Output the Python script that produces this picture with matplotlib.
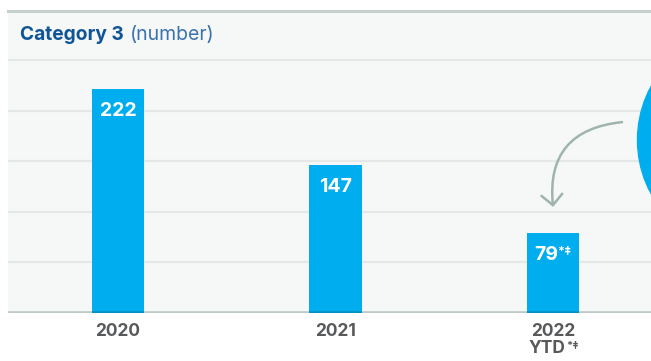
import matplotlib
matplotlib.use("Agg")
import matplotlib.pyplot as plt
from matplotlib.patches import Circle, FancyArrowPatch

# Data
years = ["2020", "2021", "2022"]
counts = [222, 147, 79]
count_marks = ["", "", "*‡"]
year_notes = ["", "", "YTD"]
note_marks = ["", "", "*‡"]
title_bold = "Category 3"
title_unit = "(number)"
grid_levels = [50, 100, 150, 200, 250]

BAR = "#00aeef"
TITLE_BLUE = "#0f5497"
UNIT_BLUE = "#3a72ad"
LABEL_GRAY = "#58595b"
PANEL = "#f6f8f8"
GRID = "#e4e8e7"
FONT = ["Inter", "DejaVu Sans"]

W, H = 651, 361
fig = plt.figure(figsize=(W / 100, H / 100), dpi=100)
fig.patch.set_facecolor("white")

ax = fig.add_axes([8 / W, 48 / H, 643 / W, 302 / H])
ax.set_facecolor(PANEL)
ax.set_xlim(-0.506, 2.45)
ax.set_ylim(0, 299)

for spine in ["left", "right", "bottom"]:
    ax.spines[spine].set_visible(False)
ax.spines["top"].set_color("#c6d1cd")
ax.spines["top"].set_linewidth(2.2)

for lvl in grid_levels:
    ax.axhline(lvl, color=GRID, lw=1.6, zorder=1)

xs = list(range(len(years)))
ax.bar(xs, counts, width=0.24, color=BAR, zorder=2)

# baseline, slightly translucent so it darkens the bar feet
ax.axhline(0, color="#003322", alpha=0.235, lw=2.6, zorder=3)

# value labels inside the bars
for i, (v, mark) in enumerate(zip(counts, count_marks)):
    dx = -5 if mark else 0
    t = ax.annotate(str(v), xy=(i, v), xytext=(dx, -19.5), textcoords="offset points",
                    ha="center", va="baseline", color="white", fontsize=14,
                    fontweight="bold", family=FONT, zorder=4)
    if mark:
        ax.annotate(mark, xy=(1, 0.5), xycoords=t, xytext=(0.2, 0),
                    textcoords="offset points", ha="left", va="baseline",
                    color="white", fontsize=9, fontweight="bold",
                    family=FONT, zorder=4)

# category labels
ax.set_xticks(xs, years)
ax.tick_params(axis="x", length=0, pad=7.2)
ax.tick_params(axis="y", left=False, labelleft=False)
for lab in ax.get_xticklabels():
    lab.set_fontsize(12.5)
    lab.set_fontweight("bold")
    lab.set_color(LABEL_GRAY)
    lab.set_family(FONT)

for i, (note, mark) in enumerate(zip(year_notes, note_marks)):
    if not note:
        continue
    n = ax.annotate(note, xy=(i, 0), xycoords=("data", "axes fraction"),
                    xytext=(-4.5, -29), textcoords="offset points",
                    ha="center", va="baseline", fontsize=12.5,
                    fontweight="bold", color=LABEL_GRAY, family=FONT,
                    annotation_clip=False)
    ax.annotate(mark, xy=(1, 0.5), xycoords=n, xytext=(0.3, 0),
                textcoords="offset points", ha="left", va="baseline",
                fontsize=8, fontweight="bold", color=LABEL_GRAY,
                family=FONT, annotation_clip=False)

# header title
t1 = ax.text(12 / 643, 275, title_bold, transform=ax.get_yaxis_transform(),
             ha="left", va="center", fontsize=13.8, fontweight="bold",
             color=TITLE_BLUE, family=FONT)
ax.annotate(title_unit, xy=(1, 0), xycoords=t1, xytext=(4.5, 0),
            textcoords="offset points", ha="left", va="bottom",
            fontsize=14, color=UNIT_BLUE, family=FONT)

# curved pointer toward the latest bar
arrow = FancyArrowPatch(posA=(2.317, 189), posB=(2.0, 105),
                        connectionstyle="arc3,rad=0.5",
                        arrowstyle="->,head_length=0.5,head_width=0.5",
                        mutation_scale=15, color="#9fb4ad", lw=1.8,
                        shrinkA=0, shrinkB=0, zorder=3)
ax.add_patch(arrow)

# large callout disc at the right edge
disc = Circle((7.50, 2.21), 1.125, transform=fig.dpi_scale_trans,
              color=BAR, zorder=5)
fig.add_artist(disc)

fig.savefig("out.png", dpi=100, facecolor=fig.get_facecolor())
